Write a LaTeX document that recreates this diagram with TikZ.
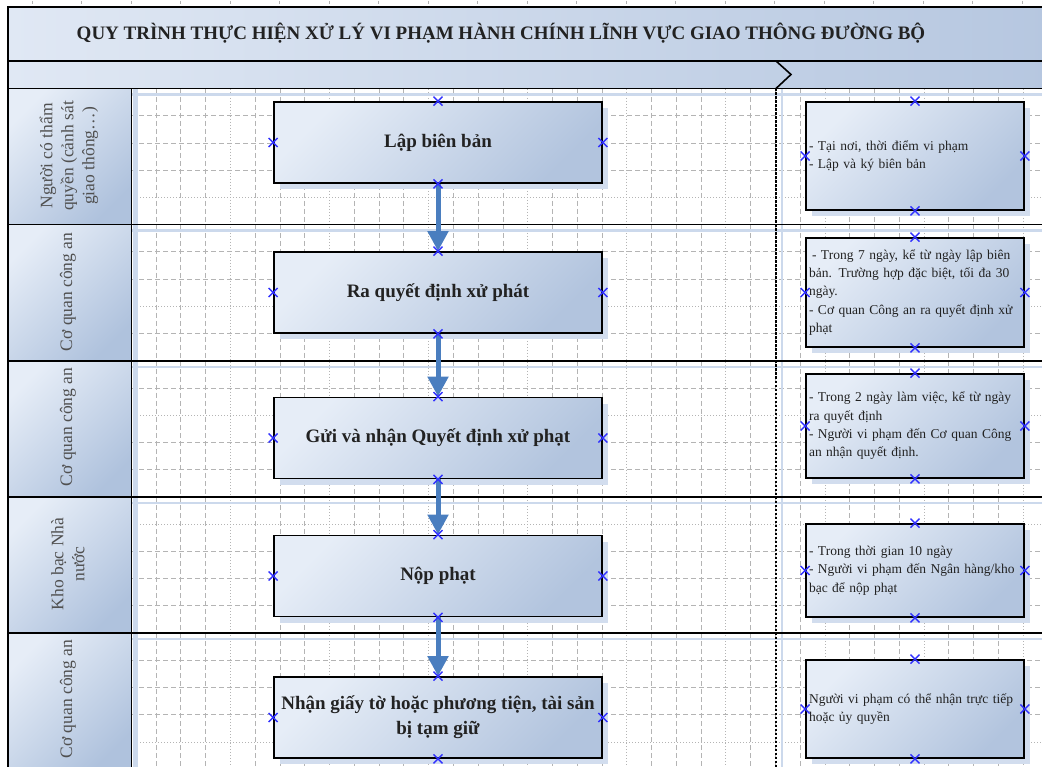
\documentclass[tikz,border=0pt]{standalone}
\usepackage{fontspec}
\setmainfont{Liberation Serif}
\usetikzlibrary{arrows.meta,shadows}

\definecolor{boxlight}{HTML}{E6EDF7}
\definecolor{boxdark}{HTML}{B2C4DE}
\definecolor{hdlight}{HTML}{E6EDF7}
\definecolor{hddark}{HTML}{AFC2DD}
\definecolor{bandlight}{HTML}{E0E8F4}
\definecolor{banddark}{HTML}{B6C7E0}
\definecolor{shadowc}{HTML}{D2DDEE}
\definecolor{laneshadow}{HTML}{CCD9EC}
\definecolor{arrowc}{HTML}{4A7EBF}
\definecolor{markc}{HTML}{3030FF}
\definecolor{gridc}{HTML}{B4B4B4}
\definecolor{textdark}{HTML}{222222}
\definecolor{labelc}{HTML}{505050}

\tikzset{
  cpx/.pic={\draw[markc,line width=1.3pt] (-4.5,-4.5)--(4.5,4.5) (-4.5,4.5)--(4.5,-4.5);},
  gridline/.style={gridc,line width=0.8pt,dash pattern=on 5pt off 3pt},
  griddot/.style={gridc,line width=0.8pt,dash pattern=on 1pt off 2pt},
  laneline/.style={black,line width=1.6pt},
  headfill/.style={draw=black,line width=1.6pt,top color=hdlight,bottom color=hddark,shading angle=45},
  bandfill/.style={draw=black,line width=1.6pt,left color=bandlight,right color=banddark},
  lanelabel/.style={rotate=90,align=center,text=labelc,font=\fontsize{17.5}{21}\selectfont},
  stepbox/.style={draw=black,line width=1.8pt,top color=boxlight,bottom color=boxdark,shading angle=45,
    minimum width=328pt,minimum height=81pt,inner sep=2pt,align=center,text=textdark,
    font=\fontsize{19}{25}\selectfont\bfseries,
    drop shadow={shadow xshift=6pt,shadow yshift=-6pt,fill=shadowc,opacity=1}},
  notebox/.style={draw=black,line width=1.8pt,top color=boxlight,bottom color=boxdark,shading angle=45,
    text width=212pt,inner xsep=3pt,inner ysep=2pt,align=left,text=textdark,
    font=\fontsize{13.5}{18.3}\selectfont,
    drop shadow={shadow xshift=6pt,shadow yshift=-6pt,fill=shadowc,opacity=1}},
  flow/.style={draw=arrowc,line width=5pt,-{Triangle[width=20pt,length=20pt]}},
  sepline/.style={black,line width=2.2pt,dash pattern=on 2.5pt off 1.5pt}
}

\begin{document}
\begin{tikzpicture}[x=1pt,y=-1pt]
\useasboundingbox (0,0) rectangle (1042,767);
\clip (0,0) rectangle (1042,767);
\fill[white] (0,0) rectangle (1042,767);

% ruler ticks along the top edge
\foreach \i in {0,...,20}
  \draw[gray!60,line width=0.8pt] ({32.25+49.5*\i},1) -- ++(0,3);

% drawing grid of the lane area
\foreach \k in {6,...,42}{
  \pgfmathsetmacro\gx{7.5+24.77*\k}
  \pgfmathtruncatemacro\r{mod(\k,4)}
  \ifnum\r=1
    \draw[griddot] (\gx,89) -- (\gx,767);
  \else
    \draw[gridline] (\gx,89) -- (\gx,767);
  \fi
}
\foreach \k in {1,...,25}{
  \pgfmathsetmacro\gy{88.5+27.23*\k}
  \pgfmathtruncatemacro\r{mod(\k,5)}
  \pgfmathtruncatemacro\q{mod(\k,4)}
  \ifnum\r=0\else
    \ifnum\q=0
      \draw[griddot] (131,\gy) -- (1042,\gy);
    \else
      \draw[gridline] (131,\gy) -- (1042,\gy);
    \fi
  \fi
}

% lane shadows
\foreach \yb in {88.5,224.6,360.8,496.9,633.1}
  \draw[laneshadow,line width=2.5pt] (13,{\yb+6}) -- (1042,{\yb+6});
\fill[laneshadow] (133,89) rectangle (138,767);
\draw[laneshadow,line width=2pt] (782,89) -- (782,767);

% title band and phase band
\draw[bandfill] (8,7) rectangle (1050,61);
\node[text=textdark,font=\fontsize{19}{22}\selectfont\bfseries] (title) at (501,33)
  {QUY TRÌNH THỰC HIỆN XỬ LÝ VI PHẠM HÀNH CHÍNH LĨNH VỰC GIAO THÔNG ĐƯỜNG BỘ};
\draw[bandfill] (8,61) rectangle (1050,88.5);
\draw[black,line width=1.6pt] (776,61) -- (791,74.5) -- (776,88.5);

% lane headers
\draw[headfill] (8,88.5) rectangle (131.5,224.6);
\draw[headfill] (8,224.6) rectangle (131.5,360.8);
\draw[headfill] (8,360.8) rectangle (131.5,496.9);
\draw[headfill] (8,496.9) rectangle (131.5,633.1);
\draw[headfill] (8,633.1) rectangle (131.5,770);

% lane boundaries
\foreach \yb in {88.5,224.6,360.8,496.9,633.1}
  \draw[laneline] (8,\yb) -- (1042,\yb);
\draw[laneline] (8,7) -- (8,767);

% lane labels
\node[lanelabel] (lab1) at (69,156) {Người có thẩm\\quyền (cảnh sát\\giao thông…)};
\node[lanelabel] (lab2) at (68,292) {Cơ quan công an};
\node[lanelabel] (lab3) at (68,427) {Cơ quan công an};
\node[lanelabel] (lab4) at (68,564) {Kho bạc Nhà\\nước};
\node[lanelabel] (lab5) at (68,699) {Cơ quan công an};

% separator between steps and notes
\draw[sepline] (776,88.5) -- (776,767);

% process steps
\node[stepbox] (m1) at (438,142.5) {Lập biên bản};
\node[stepbox] (m2) at (438,292.5) {Ra quyết định xử phát};
\node[stepbox] (m3) at (438,438) {Gửi và nhận Quyết định xử phạt};
\node[stepbox] (m4) at (438,576) {Nộp phạt};
\node[stepbox] (m5) at (438,717.5) {Nhận giấy tờ hoặc phương tiện, tài sản\\bị tạm giữ};

% notes
\node[notebox,minimum height=108pt] (r1) at (915,156)
  {- Tại nơi, thời điểm vi phạm\\- Lập và ký biên bản};
\node[notebox,minimum height=109pt] (r2) at (915,292.5)
  {\hspace{3pt}- Trong 7 ngày, kể từ ngày lập biên\\bản. Trường hợp đặc biệt, tối đa 30\\ngày.\\- Cơ quan Công an ra quyết định xử\\phạt};
\node[notebox,minimum height=104pt] (r3) at (915,426)
  {- Trong 2 ngày làm việc, kể từ ngày\\ra quyết định\\- Người vi phạm đến Cơ quan Công\\an nhận quyết định.};
\node[notebox,minimum height=93pt] (r4) at (915,570.5)
  {- Trong thời gian 10 ngày\\- Người vi phạm đến Ngân hàng/kho\\bạc để nộp phạt};
\node[notebox,minimum height=98pt] (r5) at (915,709)
  {Người vi phạm có thể nhận trực tiếp\\hoặc ủy quyền};

% flow arrows
\draw[flow] (m1.south) -- (m2.north);
\draw[flow] (m2.south) -- (m3.north);
\draw[flow] (m3.south) -- (m4.north);
\draw[flow] (m4.south) -- (m5.north);

% connection points
\foreach \b in {m1,m2,m3,m4,m5,r1,r2,r3,r4,r5}
  \foreach \a in {north,south,east,west}
    \pic at (\b.\a) {cpx};
\end{tikzpicture}
\end{document}
